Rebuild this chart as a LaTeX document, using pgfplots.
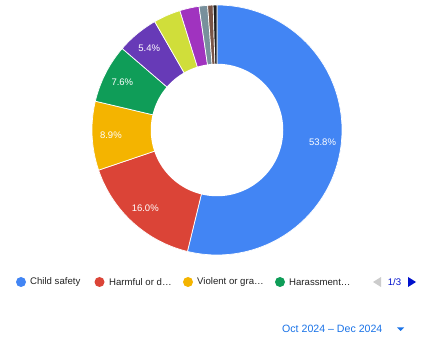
\documentclass[border=0pt]{standalone}
\usepackage{pgfplots}
\pgfplotsset{compat=1.18}
\usepackage{pgfplotstable}
\usepackage{fontspec}
\setmainfont{Liberation Sans}

\definecolor{cBlue}{HTML}{4285F4}
\definecolor{cRed}{HTML}{DB4437}
\definecolor{cYellow}{HTML}{F4B400}
\definecolor{cGreen}{HTML}{0F9D58}
\definecolor{cPurple}{HTML}{673AB7}
\definecolor{cLime}{HTML}{D0DE3A}
\definecolor{cMagenta}{HTML}{A033BF}
\definecolor{cGrey}{HTML}{78909C}
\definecolor{cBrown}{HTML}{795548}
\definecolor{cBlack}{HTML}{212121}
\definecolor{cText}{HTML}{222222}
\definecolor{cLink}{HTML}{1A73E8}
\definecolor{cPage}{HTML}{0011CC}

\pgfplotstableread{
value col label
53.8 cBlue 1
16.0 cRed 1
8.9 cYellow 1
7.6 cGreen 1
5.4 cPurple 1
3.5 cLime 0
2.5 cMagenta 0
1.1 cGrey 0
0.7 cBrown 0
0.5 cBlack 0
}\piedata

\newcommand\cum{0}
\newcommand\drawslice[1]{%
  \pgfplotstablegetelem{#1}{value}\of\piedata \let\slval\pgfplotsretval
  \pgfplotstablegetelem{#1}{col}\of\piedata \let\slcol\pgfplotsretval
  \pgfplotstablegetelem{#1}{label}\of\piedata \let\sllab\pgfplotsretval
  \pgfmathsetmacro\aS{90-3.6*\cum}%
  \pgfmathsetmacro\aE{90-3.6*(\cum+\slval)}%
  \pgfmathsetmacro\aM{(\aS+\aE)/2}%
  \pgfmathsetmacro\lx{0.85*cos(\aM)}%
  \pgfmathsetmacro\ly{0.85*sin(\aM)}%
  \pgfmathsetmacro\newcumval{\cum+\slval}%
  \global\let\cum\newcumval
  \edef\temp{\noexpand\addplot[fill=\slcol, draw=white, line width=0.7pt, domain=\aE:\aS, samples=90, variable=\noexpand\t] ({cos(\noexpand\t)},{sin(\noexpand\t)}) -- (axis cs:0,0) -- cycle;}%
  \temp
  \ifnum\sllab=1
    \edef\temp{\noexpand\node[text=white, font=\noexpand\fontsize{9.5bp}{11bp}\noexpand\selectfont] at (axis cs:\lx,\ly) {\slval\noexpand\%};}%
    \temp
  \fi
}

\begin{document}
\begin{tikzpicture}
\fill[white] (0,0) rectangle (425bp,337bp);
\begin{axis}[at={(217bp,207bp)}, anchor=center, scale only axis,
  width=250bp, height=250bp, xmin=-1, xmax=1, ymin=-1, ymax=1,
  hide axis, clip=false]
\pgfplotsinvokeforeach{0,...,9}{\drawslice{#1}}
\addplot[fill=white, draw=none, domain=0:360, samples=120, variable=\t] ({0.53*cos(\t)},{0.53*sin(\t)}) -- cycle;
\end{axis}
% legend
\foreach \cx/\tx/\col/\txt in {21/30/cBlue/Child safety, 99.5/109/cRed/Harmful or d…, 188/197/cYellow/Violent or gra…, 280/289/cGreen/Harassment…}{
  \fill[\col] (\cx bp,55bp) circle (5bp);
  \node[anchor=west, inner sep=0pt, text=cText, font=\fontsize{9.6bp}{11bp}\selectfont] at (\tx bp,55bp) {\txt};
}
\fill[black!20] (373bp,55bp) -- (381bp,60bp) -- (381bp,50bp) -- cycle;
\node[inner sep=0pt, text=cPage, font=\fontsize{9.6bp}{11bp}\selectfont] at (394.5bp,55bp) {1/3};
\fill[cPage] (408bp,60bp) -- (408bp,50bp) -- (416bp,55bp) -- cycle;
% date range
\node[anchor=west, inner sep=0pt, text=cLink, font=\fontsize{10.6bp}{12bp}\selectfont] at (282bp,8bp) {Oct 2024 – Dec 2024};
\fill[cLink] (397bp,9.5bp) -- (404bp,9.5bp) -- (400.5bp,6bp) -- cycle;
\end{tikzpicture}
\end{document}
